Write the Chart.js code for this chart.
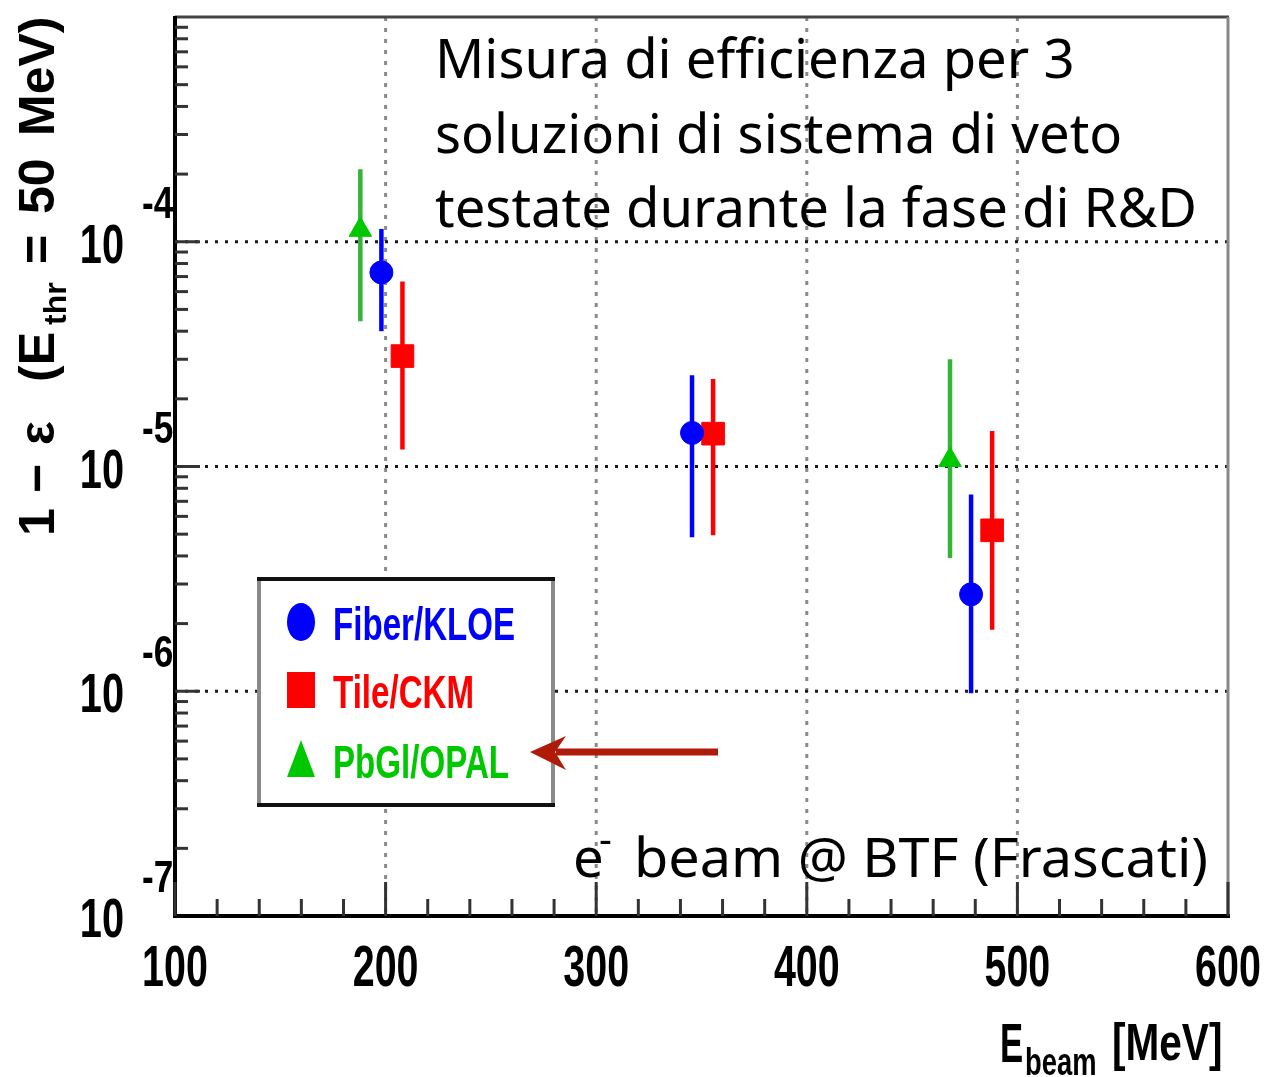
<!DOCTYPE html>
<html>
<head>
<meta charset="utf-8">
<script src="https://cdn.jsdelivr.net/npm/chart.js@4.4.0/dist/chart.umd.min.js"></script>
<style>
	body { margin: 0; background: #fff; }
	canvas { display: block; }
</style>
</head>
<body>
<canvas id="effChart" width="1264" height="1077"></canvas>
<script>
// Beam energy (MeV), 1 - efficiency and error bar ends for each veto option
const fiberX = [198, 345.5, 478];
const fiberY = [7.3e-5, 1.41e-5, 2.7e-6];
const fiberHi = [1.14e-4, 2.55e-5, 7.5e-6];
const fiberLo = [4.0e-5, 4.85e-6, 9.8e-7];

const tileX = [208, 355.5, 488];
const tileY = [3.1e-5, 1.4e-5, 5.2e-6];
const tileHi = [6.65e-5, 2.45e-5, 1.44e-5];
const tileLo = [1.19e-5, 4.95e-6, 1.88e-6];

const opalX = [188, 468];
const opalY = [1.13e-4, 1.07e-5];
const opalHi = [2.1e-4, 3.0e-5];
const opalLo = [4.43e-5, 3.92e-6];

// Axis ticks
const xTicks = [100, 200, 300, 400, 500, 600];
const xMinorStep = 20;
const xGrid = [200, 300, 400, 500];
const yDecades = [-7, -6, -5, -4, -3];
const yGrid = [-6, -5, -4];
const yMinor = [2, 3, 4, 5, 6, 7, 8, 9];

// Texts
const noteLines = ['Misura di efficienza per 3', 'soluzioni di sistema di veto', 'testate durante la fase di R&D'];
const beamNote = 'beam @ BTF (Frascati)';

let series = [
	{ label: 'Fiber/KLOE', xs: fiberX, ys: fiberY, hi: fiberHi, lo: fiberLo, color: '#0000ff', bar: '#0000ff', style: 'circle', r: 11.5 },
	{ label: 'Tile/CKM', xs: tileX, ys: tileY, hi: tileHi, lo: tileLo, color: '#ff0000', bar: '#ff0000', style: 'rect', r: 16 },
	{ label: 'PbGl/OPAL', xs: opalX, ys: opalY, hi: opalHi, lo: opalLo, color: '#00c800', bar: '#35b535', style: 'triangle', r: 13 },
];

function line(ctx, x1, y1, x2, y2) {
	ctx.beginPath();
	ctx.moveTo(x1, y1);
	ctx.lineTo(x2, y2);
	ctx.stroke();
}

// Draws text squeezed horizontally (the plot uses narrow Helvetica)
function squeeze(ctx, text, x, y, font, sx, align) {
	ctx.save();
	ctx.font = font;
	let w = ctx.measureText(text).width * sx;
	let left = x;
	if (align == 'center') left = x - w / 2;
	else if (align == 'right') left = x - w;
	ctx.translate(left, y);
	ctx.scale(sx, 1);
	ctx.textAlign = 'left';
	ctx.textBaseline = 'alphabetic';
	ctx.fillText(text, 0, 0);
	ctx.restore();
	return w;
}

const deco = {
	id: 'deco',
	beforeDatasetsDraw(chart) {
		const { ctx, chartArea: a, scales: { x, y } } = chart;
		ctx.save();
		// dotted grid
		ctx.lineWidth = 3;
		ctx.setLineDash([4, 7]);
		ctx.strokeStyle = '#8a8a8a';
		xGrid.forEach(v => {
			let p = x.getPixelForValue(v);
			line(ctx, p, a.top, p, a.bottom);
		});
		ctx.setLineDash([3, 7]);
		ctx.strokeStyle = '#1a1a1a';
		yGrid.forEach(e => {
			let p = y.getPixelForValue(Math.pow(10, e));
			line(ctx, a.left, p, a.right, p);
		});
		ctx.setLineDash([]);
		// error bars
		series.forEach(s => {
			ctx.strokeStyle = s.bar;
			ctx.lineWidth = 4.5;
			s.xs.forEach((v, i) => {
				let p = x.getPixelForValue(v);
				line(ctx, p, y.getPixelForValue(s.hi[i]), p, y.getPixelForValue(s.lo[i]));
			});
		});
		ctx.restore();
	},
	afterDraw(chart) {
		const { ctx, chartArea: a, scales: { x, y } } = chart;
		ctx.save();

		// frame
		ctx.lineWidth = 3;
		ctx.strokeStyle = '#444';
		line(ctx, a.left, a.top, a.right + 1, a.top);
		ctx.strokeStyle = '#888';
		line(ctx, a.right, a.top, a.right, a.bottom);
		ctx.lineWidth = 4;
		ctx.strokeStyle = '#000';
		line(ctx, a.left, a.top - 1, a.left, a.bottom + 2);
		line(ctx, a.left - 2, a.bottom, a.right + 2, a.bottom);

		// x ticks
		ctx.lineWidth = 3;
		ctx.strokeStyle = '#333';
		for (let v = xTicks[0]; v <= xTicks[xTicks.length - 1]; v += xMinorStep) {
			let p = x.getPixelForValue(v);
			let len = xTicks.includes(v) ? 34 : 17;
			line(ctx, p, a.bottom, p, a.bottom - len);
		}
		// y ticks
		yDecades.forEach(e => {
			let p = y.getPixelForValue(Math.pow(10, e));
			if (e > yDecades[0] && e < yDecades[yDecades.length - 1]) line(ctx, a.left, p, a.left + 25, p);
			if (e == yDecades[yDecades.length - 1]) return;
			yMinor.forEach(m => {
				let q = y.getPixelForValue(m * Math.pow(10, e));
				line(ctx, a.left, q, a.left + 13, q);
			});
		});

		// tick labels
		ctx.fillStyle = '#000';
		xTicks.forEach(v => {
			squeeze(ctx, String(v), x.getPixelForValue(v), a.bottom + 70, 'bold 58px "Liberation Sans"', 0.68, 'center');
		});
		yDecades.slice(0, 4).forEach(e => {
			let p = y.getPixelForValue(Math.pow(10, e));
			squeeze(ctx, '10', 124, p + 21, 'bold 56px "Liberation Sans"', 0.71, 'right');
			squeeze(ctx, String(e), 142, p - 24, 'bold 44px "Liberation Sans"', 0.8, 'left');
		});

		// y title, rotated
		ctx.save();
		ctx.translate(54, 536);
		ctx.rotate(-Math.PI / 2);
		ctx.font = 'bold 50px "Liberation Sans"';
		ctx.textBaseline = 'alphabetic';
		[['1', 0], ['\u2212', 43], ['\u03b5', 91], ['(E', 154], ['=', 272], ['50', 322], ['MeV)', 400]].forEach(t => ctx.fillText(t[0], t[1], 0));
		ctx.font = 'bold 32px "Liberation Sans"';
		ctx.fillText('thr', 211, 12);
		ctx.restore();

		// x title
		squeeze(ctx, 'E', 1000, 1062, 'bold 56px "Liberation Sans"', 0.62, 'left');
		squeeze(ctx, 'beam', 1025, 1075, 'bold 38px "Liberation Sans"', 0.72, 'left');
		squeeze(ctx, '[MeV]', 1112, 1060, 'bold 52px "Liberation Sans"', 0.78, 'left');

		// annotation
		let noteFont = '54px "Noto Sans"';
		ctx.font = noteFont;
		let sx = 762 / ctx.measureText(noteLines[2]).width;
		noteLines.forEach((t, i) => squeeze(ctx, t, 435, 78 + i * 74.5, noteFont, sx, 'left'));
		squeeze(ctx, 'e', 573, 877, noteFont, sx, 'left');
		squeeze(ctx, '-', 599, 853, '40px "Noto Sans"', 1, 'left');
		ctx.font = noteFont;
		let sxBeam = 574 / ctx.measureText(beamNote).width;
		squeeze(ctx, beamNote, 634, 877, noteFont, sxBeam, 'left');

		// legend box
		let bx = 257, by = 577, bw = 298, bh = 230;
		ctx.fillStyle = '#fff';
		ctx.fillRect(bx, by, bw, bh);
		ctx.lineWidth = 4;
		ctx.strokeStyle = '#8a8a8a';
		line(ctx, bx + 2, by, bx + 2, by + bh);
		line(ctx, bx + bw - 2, by, bx + bw - 2, by + bh);
		ctx.strokeStyle = '#111';
		line(ctx, bx, by + 2, bx + bw, by + 2);
		line(ctx, bx, by + bh - 2, bx + bw, by + bh - 2);

		let rowY = [622, 690, 760];
		series.forEach((s, i) => {
			let cy = rowY[i];
			ctx.fillStyle = s.color;
			ctx.beginPath();
			if (s.style == 'circle') ctx.ellipse(301, cy, 14, 19, 0, 0, Math.PI * 2);
			else if (s.style == 'rect') ctx.rect(287, cy - 18, 28, 36);
			else { ctx.moveTo(301, cy - 20); ctx.lineTo(315, cy + 17); ctx.lineTo(287, cy + 17); ctx.closePath(); }
			ctx.fill();
			squeeze(ctx, s.label, 333, cy + 18, 'bold 46px "Liberation Sans"', 0.72, 'left');
		});

		// arrow pointing at the legend
		ctx.strokeStyle = '#b01a08';
		ctx.fillStyle = '#b01a08';
		ctx.lineWidth = 7;
		line(ctx, 718, 752, 556, 752);
		ctx.beginPath();
		ctx.moveTo(530, 752);
		ctx.lineTo(566, 736);
		ctx.lineTo(555, 752);
		ctx.lineTo(566, 770);
		ctx.closePath();
		ctx.fill();

		ctx.restore();
	}
};

function points(xs, ys) {
	return xs.map((v, i) => ({ x: v, y: ys[i] }));
}

window.onload = () => {
	let context = document.querySelector('#effChart');
	new Chart(context, {
		type: 'scatter',
		data: {
			datasets: series.map(s => ({
				label: s.label,
				data: points(s.xs, s.ys),
				pointStyle: s.style,
				pointRadius: s.r,
				pointHoverRadius: s.r,
				backgroundColor: s.color,
				borderColor: s.color,
				borderWidth: 1,
			}))
		},
		options: {
			responsive: false,
			animation: false,
			layout: { padding: { top: 9, right: 36, left: 0, bottom: 0 } },
			plugins: { legend: { display: false }, tooltip: { enabled: false } },
			scales: {
				x: {
					type: 'linear', min: 100, max: 600,
					ticks: { display: false }, grid: { display: false }, border: { display: false },
					afterFit: s => { s.height = 161; }
				},
				y: {
					type: 'logarithmic', min: 1e-7, max: 1e-3,
					ticks: { display: false }, grid: { display: false }, border: { display: false },
					afterFit: s => { s.width = 175; }
				}
			}
		},
		plugins: [deco]
	});
};
</script>
</body>
</html>
